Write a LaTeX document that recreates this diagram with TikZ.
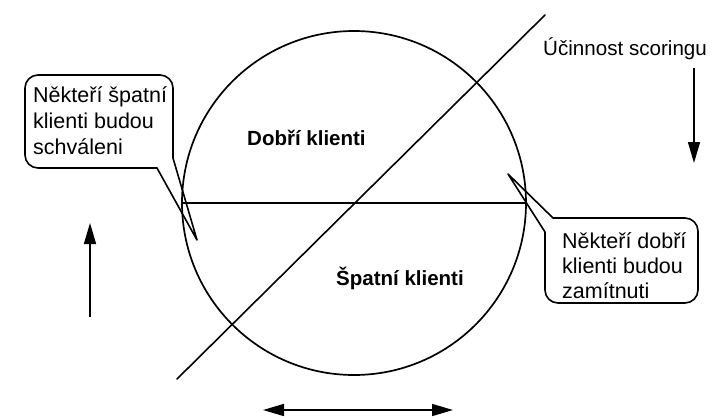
\documentclass[tikz,border=0pt]{standalone}
\usepackage{fontspec}
\setmainfont{Liberation Sans}
\usetikzlibrary{arrows.meta}
\begin{document}
\begin{tikzpicture}[x=1pt,y=-1pt,
  ln/.style={line width=1.6pt,line cap=round},
  txt/.style={anchor=base west,inner sep=0pt,font=\fontsize{21.5}{25}\selectfont},
  btxt/.style={anchor=base west,inner sep=0pt,font=\fontsize{20.5}{25}\selectfont\bfseries},
  arr/.style={line width=1.5pt,-{Triangle[length=21pt,width=12pt]}},
  darr/.style={line width=1.5pt,{Triangle[length=21pt,width=12pt]}-{Triangle[length=21pt,width=12pt]}}]
\fill[white] (0,0) rectangle (713,416);
\useasboundingbox (0,0) rectangle (713,416);
% circle and dividing lines
\node[circle,draw,line width=1.7pt,minimum size=344pt,inner sep=0pt,outer sep=0pt] (C) at (354,203) {};
\draw[ln] (C.west) -- (C.east);
\coordinate (d1) at (177,379);
\coordinate (d2) at (545,15);
\draw[ln] (d1) -- (d2);
% region labels
\node[btxt] (good) at (247,145) {Dobří klienti};
\node[btxt] (bad) at (336,285) {Špatní klienti};
\node[txt,font=\fontsize{20.6}{25}\selectfont] (eff) at (543,55) {Účinnost scoringu};
% left callout
\draw[ln,line join=round] (25,120) [rounded corners=13pt] -- (25,75) -- (173,75) [sharp corners] -- (173,158) -- (197,240) -- (157,168) [rounded corners=13pt] -- (25,168) -- cycle;
\node[txt] (l1) at (33,102) {Někteří špatní};
\node[txt] (l2) at (33,128) {klienti budou};
\node[txt] (l3) at (33,154) {schváleni};
% right callout
\draw[ln,line join=round] (620,218) [rounded corners=13pt] -- (698,218) -- (698,303) -- (545,303) [sharp corners] -- (545,232) -- (508,174) -- (553,218) -- cycle;
\node[txt] (r1) at (562,248) {Někteří dobří};
\node[txt] (r2) at (562,273) {klienti budou};
\node[txt] (r3) at (562,298) {zamítnuti};
% arrows
\coordinate (ua1) at (90,317);
\coordinate (ua2) at (90,223);
\draw[arr] (ua1) -- (ua2);
\coordinate (da1) at (694,68);
\coordinate (da2) at (694,163);
\draw[arr] (da1) -- (da2);
\coordinate (ha1) at (263,410);
\coordinate (ha2) at (453,410);
\draw[darr] (ha1) -- (ha2);
\end{tikzpicture}
\end{document}
